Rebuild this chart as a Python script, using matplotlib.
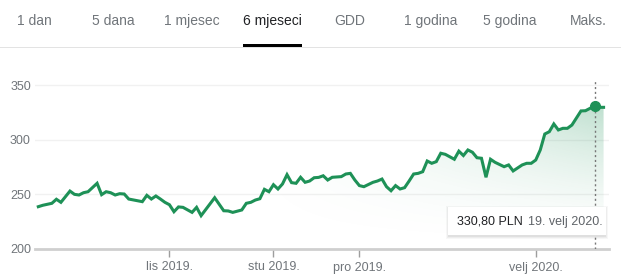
import numpy as np
import matplotlib
matplotlib.use("Agg")
import matplotlib.pyplot as plt
from matplotlib.patches import Rectangle, FancyBboxPatch

plt.rcParams['font.family'] = ['Liberation Sans', 'DejaVu Sans']

# range tabs
tabs = ['1 dan', '5 dana', '1 mjesec', '6 mjeseci', 'GDD', '1 godina', '5 godina', 'Maks.']
active_tab = '6 mjeseci'

# trading-day index -> closing price (PLN)
days = [0, 1, 3, 4, 5, 7, 8, 9, 10, 11, 13, 14, 15, 16, 17, 18, 19, 20, 23, 24,
        25, 26, 27, 28, 29, 30, 31, 32, 34, 35, 36, 39, 41, 42, 43, 45, 46, 47, 48, 49,
        50, 51, 52, 53, 54, 55, 56, 57, 58, 59, 60, 61, 62, 63, 64, 65, 67, 68, 69, 70,
        71, 72, 74, 75, 76, 77, 78, 79, 80, 81, 82, 83, 84, 85, 86, 87, 88, 89, 90, 92,
        93, 94, 95, 96, 97, 98, 99, 100, 101, 103, 104, 105, 107, 108, 109, 110, 111, 112, 113, 114,
        115, 116, 117, 118, 120, 121, 123, 124, 125]
prices = [238.7, 240.0, 241.8, 245.5, 242.7, 253.0, 250.0, 249.4, 251.5, 252.4,
          260.1, 249.7, 252.4, 251.5, 249.4, 250.6, 250.3, 245.7, 243.3, 249.1,
          245.7, 248.5, 245.7, 242.7, 240.5, 234.1, 238.5, 238.1, 233.5, 238.1,
          230.5, 246.9, 235.0, 234.8, 233.5, 235.7, 241.8, 242.7, 244.8, 246.0,
          254.6, 252.4, 258.8, 254.9, 259.5, 268.0, 260.7, 260.1, 265.6, 261.0,
          262.2, 265.2, 265.5, 267.0, 263.1, 265.6, 266.2, 268.6, 269.2, 263.1,
          258.0, 257.0, 261.0, 262.2, 264.0, 257.0, 253.3, 258.0, 254.9, 256.1,
          262.2, 268.6, 269.2, 270.7, 280.5, 278.4, 279.9, 287.6, 286.6, 282.1,
          289.5, 285.5, 290.6, 288.5, 283.5, 283.0, 265.6, 282.1, 279.3, 275.3,
          276.9, 271.4, 276.9, 278.4, 278.4, 281.4, 290.6, 305.2, 307.3, 314.4,
          308.9, 310.4, 310.4, 313.4, 326.3, 326.5, 330.8, 329.6, 329.6]

month_ticks = [29, 52, 71, 110]
month_labels = ['lis 2019.', 'stu 2019.', 'pro 2019.', 'velj 2020.']
y_ticks = [200, 250, 300, 350]

hover_day = 123
hover_price = 330.8
tooltip_price = '330,80 PLN'
tooltip_date = '19. velj 2020.'

green = '#1e9157'
W, H = 621, 280

fig = plt.figure(figsize=(W / 100, H / 100), dpi=100)

def fx(px):
    return px / W

def fy(py):
    return 1 - py / H

# tabs
tab_x = [34, 113, 192, 272, 350, 431, 510, 588]
for t, x in zip(tabs, tab_x):
    fig.text(fx(x), fy(21), t, ha='center', va='center', fontsize=10,
             color='#202124' if t == active_tab else '#70757a')
fig.add_artist(Rectangle((0, fy(48)), 1, 1 / H, transform=fig.transFigure,
                         facecolor='#e3e3e3', edgecolor='none'))
fig.add_artist(Rectangle((fx(243), fy(47)), fx(59), 3 / H, transform=fig.transFigure,
                         facecolor='#000000', edgecolor='none'))

# chart area
ax = fig.add_axes([fx(35), fy(249), fx(609 - 35), (249 - 80) / H])
ymin, ymax = 200, 354.6
xmin, xmax = -0.73, 126.2
ax.set_xlim(xmin, xmax)
ax.set_ylim(ymin, ymax)
for s in ax.spines.values():
    s.set_visible(False)

for v in y_ticks[1:]:
    ax.axhline(v, color='#f1f1f1', lw=1, zorder=0)
ax.axhline(200, color='#cfcfcf', lw=2, zorder=2, clip_on=False)

# gradient fill under the line
poly = ax.fill_between(days, prices, ymin, facecolor='none', edgecolor='none')
gx = np.linspace(0, 1, 300)
gy = np.linspace(0, 1, 200)
GX, GY = np.meshgrid(gx, gy)
alpha = 0.38 * np.clip((GX - 0.35) / 0.65, 0, 1) ** 1.3 * GY ** 1.6
rgba = np.zeros((200, 300, 4))
rgba[..., 0] = 0x1e / 255
rgba[..., 1] = 0x91 / 255
rgba[..., 2] = 0x57 / 255
rgba[..., 3] = alpha
im = ax.imshow(rgba, extent=[xmin, xmax, ymin, ymax], origin='lower',
               aspect='auto', zorder=1, interpolation='bilinear')
im.set_clip_path(poly.get_paths()[0], transform=ax.transData)

ax.plot(days, prices, color=green, lw=2.2, zorder=3, solid_joinstyle='miter')
ax.axvline(hover_day, color='#777777', lw=1, ls=(0, (1.5, 2)), zorder=2)
ax.plot([hover_day], [hover_price], 'o', color=green, ms=7, zorder=4)

ax.set_yticks(y_ticks)
ax.set_yticklabels([str(v) for v in y_ticks])
ax.set_xticks(month_ticks)
ax.set_xticklabels(month_labels)
ax.tick_params(axis='y', length=0, pad=3, labelsize=9, labelcolor='#70757a')
ax.tick_params(axis='x', length=6, width=1, color='#9e9e9e', pad=3,
               labelsize=9, labelcolor='#70757a')

# tooltip
for i, a in enumerate([0.05, 0.04, 0.03]):
    fig.add_artist(Rectangle((fx(448 - i), fy(236 + i + 1)), fx(158 + 2 * i), (29 + 2 * i) / H,
                             transform=fig.transFigure, facecolor='#000000',
                             alpha=a, edgecolor='none', zorder=5))
fig.add_artist(Rectangle((fx(448), fy(235)), fx(158), 28 / H, transform=fig.transFigure,
                         facecolor='white', edgecolor='none', zorder=6))
fig.text(fx(457), fy(221.5), tooltip_price, ha='left', va='center', fontsize=9,
         color='#202124', zorder=7)
fig.text(fx(528), fy(221.5), tooltip_date, ha='left', va='center', fontsize=9,
         color='#5f6368', zorder=7)

fig.savefig('out.png', dpi=100)
